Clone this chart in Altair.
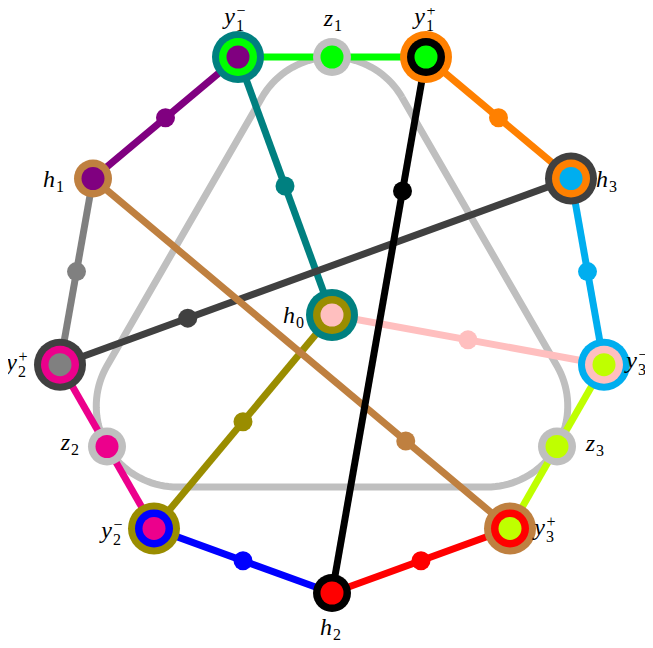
import altair as alt
import pandas as pd
import numpy as np

# ---------------- data ----------------
node_ids = ["y1-", "z1", "y1+", "h3", "y3-", "z3", "y3+", "h2", "y2-", "z2", "y2+", "h1", "h0"]
node_x = [238, 332, 426, 571, 604, 557, 510, 332, 154, 107, 60, 93, 332]
node_y = [57, 57, 57, 178.5, 364.7, 446.5, 528.4, 593, 528.4, 446.5, 364.7, 178.5, 315]
node_kind = ["big", "small", "big", "big", "big", "small", "big", "small", "big", "small", "big", "small", "big"]

C = {
    "green": "#00ff00", "orange": "#ff8000", "cyan": "#00aeef", "lime": "#bfff00",
    "red": "#ff0000", "blue": "#0000ff", "magenta": "#ec008c", "gray": "#808080",
    "purple": "#800080", "teal": "#008080", "pink": "#ffbfbf", "olive": "#9a8d00",
    "darkgray": "#404040", "brown": "#bf8040", "black": "#000000", "lightgray": "#bfbfbf",
}

node_outer = ["teal", "lightgray", "orange", "darkgray", "cyan", "lightgray", "brown",
              "black", "olive", "lightgray", "darkgray", "brown", "teal"]
node_ring = ["green", "", "black", "orange", "pink", "", "red", "", "blue", "", "magenta", "", "olive"]
node_inner = ["purple", "green", "green", "cyan", "lime", "lime", "lime", "red",
              "magenta", "magenta", "gray", "purple", "pink"]

label_letter = ["y", "z", "y", "h", "y", "z", "y", "h", "y", "z", "y", "h", "h"]
label_sub = ["1", "1", "1", "3", "3", "3", "3", "2", "2", "2", "2", "1", "0"]
label_sup = ["\u2212", "", "+", "", "\u2212", "", "+", "", "\u2212", "", "+", "", ""]
label_dx = [-3, 1, -1, 37, 33, 38, 35, 0, -42, -37, -43, -38, -37]
label_dy = [-33, -31, -33, 8.5, 3, 4.5, 7, 42, 10, 3.5, 5, 8.5, 8]

edge_src = ["y1-", "z1", "y1+", "h3", "y3-", "z3", "y3+", "h2", "y2-", "z2", "y2+", "h1",
            "y1-", "h0", "h0", "h3", "h1", "y1+"]
edge_dst = ["z1", "y1+", "h3", "y3-", "z3", "y3+", "h2", "y2-", "z2", "y2+", "h1", "y1-",
            "h0", "y3-", "y2-", "y2+", "y3+", "h2"]
edge_col = ["green", "green", "orange", "cyan", "lime", "lime", "red", "blue", "magenta",
            "magenta", "gray", "purple", "teal", "pink", "olive", "darkgray", "brown", "black"]
edge_dot = [None, None, 0.5, 0.5, None, None, 0.5, 0.5, None, None, 0.5, 0.5,
            0.5, 0.5, 0.5, 0.75, 0.75, 0.25]

# rounded triangle (through z1, z2, z3)
tri_cx, tri_cy, tri_d, tri_r = 332, 316.7, 178.8, 80.9

# ---------------- tables ----------------
pos = {n: (x, y) for n, x, y in zip(node_ids, node_x, node_y)}

nodes = pd.DataFrame({
    "id": node_ids, "x": node_x, "y": node_y, "kind": node_kind,
    "outer": [C[c] for c in node_outer],
    "ring": [C[c] if c else "" for c in node_ring],
    "inner": [C[c] for c in node_inner],
})

edges = pd.DataFrame({
    "x": [pos[s][0] for s in edge_src], "y": [pos[s][1] for s in edge_src],
    "x2": [pos[d][0] for d in edge_dst], "y2": [pos[d][1] for d in edge_dst],
    "col": [C[c] for c in edge_col], "t": edge_dot,
})
dots = edges.dropna(subset=["t"]).copy()
dots["x"] = dots["x"] + (dots["x2"] - dots["x"]) * dots["t"]
dots["y"] = dots["y"] + (dots["y2"] - dots["y"]) * dots["t"]
dots = dots[["x", "y", "col"]]

tri_pts = []
for phi in (90, 210, 330):
    vx = tri_cx + tri_d * np.cos(np.radians(phi))
    vy = tri_cy - tri_d * np.sin(np.radians(phi))
    for a in np.linspace(phi - 60, phi + 60, 40):
        tri_pts.append((vx + tri_r * np.cos(np.radians(a)), vy - tri_r * np.sin(np.radians(a))))
tri_pts.append(tri_pts[0])
tri = pd.DataFrame({"x": [p[0] for p in tri_pts], "y": [p[1] for p in tri_pts],
                    "o": list(range(len(tri_pts)))})

lx = [x + dx for x, dx in zip(node_x, label_dx)]
ly = [y + dy for y, dy in zip(node_y, label_dy)]
lab_main = pd.DataFrame({"x": lx, "y": ly, "t": label_letter})
lab_sub = pd.DataFrame({"x": [v + 1 for v in lx],
                        "y": [v + (7 if s else 5) for v, s in zip(ly, label_sup)],
                        "t": label_sub})
lab_sup = pd.DataFrame({"x": [v + 1.5 for v in lx], "y": [v - 8 for v in ly], "t": label_sup})
lab_sup = lab_sup[lab_sup["t"] != ""]

# ---------------- chart ----------------
X = alt.X("x:Q", scale=alt.Scale(domain=[8, 645], nice=False, zero=False), axis=None)
Y = alt.Y("y:Q", scale=alt.Scale(domain=[640, 8], nice=False, zero=False), axis=None)
COL = alt.Color("col:N", scale=None, legend=None)


def sz(r):
    return 4 * r * r


tri_layer = alt.Chart(tri).mark_line(color="#bfbfbf", strokeWidth=7).encode(
    x=X, y=Y, order="o:Q")

edge_layer = alt.Chart(edges).mark_rule(strokeWidth=7).encode(
    x=X, y=Y, x2="x2:Q", y2="y2:Q", color=COL)

dot_layer = alt.Chart(dots).mark_circle(size=sz(9.5), opacity=1).encode(x=X, y=Y, color=COL)

outer_big = alt.Chart(nodes[nodes.kind == "big"]).mark_circle(size=sz(26), opacity=1).encode(
    x=X, y=Y, color=alt.Color("outer:N", scale=None, legend=None))
outer_small = alt.Chart(nodes[nodes.kind == "small"]).mark_circle(size=sz(19), opacity=1).encode(
    x=X, y=Y, color=alt.Color("outer:N", scale=None, legend=None))
ring_big = alt.Chart(nodes[nodes.kind == "big"]).mark_circle(size=sz(19), opacity=1).encode(
    x=X, y=Y, color=alt.Color("ring:N", scale=None, legend=None))
inner = alt.Chart(nodes).mark_circle(size=sz(11.5), opacity=1).encode(
    x=X, y=Y, color=alt.Color("inner:N", scale=None, legend=None))

font = "'Liberation Serif', 'Times New Roman', serif"
t_main = alt.Chart(lab_main).mark_text(font=font, fontStyle="italic", fontSize=24,
                                       align="right", baseline="alphabetic",
                                       color="black").encode(x=X, y=Y, text="t:N")
t_sub = alt.Chart(lab_sub).mark_text(font=font, fontSize=16, align="left",
                                     baseline="alphabetic", color="black").encode(x=X, y=Y, text="t:N")
t_sup = alt.Chart(lab_sup).mark_text(font=font, fontSize=16, align="left",
                                     baseline="alphabetic", color="black").encode(x=X, y=Y, text="t:N")

chart = alt.layer(tri_layer, edge_layer, dot_layer, outer_big, outer_small, ring_big, inner,
                  t_main, t_sub, t_sup).properties(
    width=637, height=632, padding=0, autosize=alt.AutoSizeParams(type="none")
).configure_view(strokeWidth=0)

chart.save("out.html", embed_options={"renderer": "svg", "actions": False})
